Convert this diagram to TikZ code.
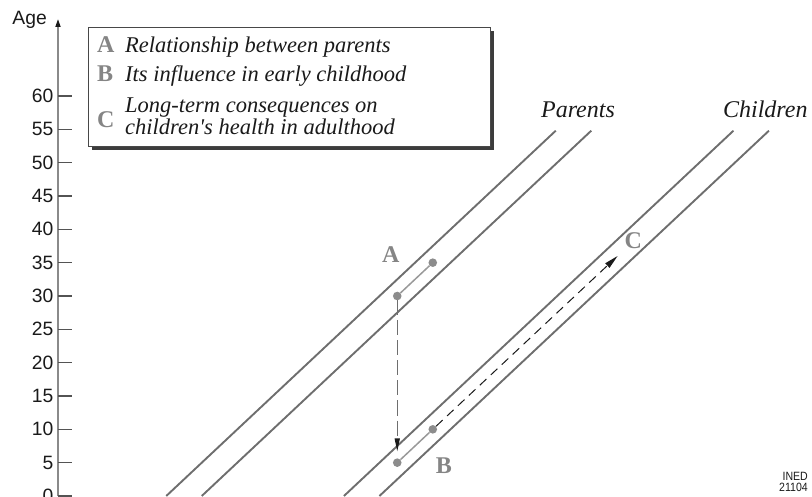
\documentclass[tikz,border=0pt]{standalone}
\usepackage{fontspec}
\setmainfont{Liberation Serif}
\newfontfamily\axfont{Liberation Sans}
\newfontfamily\srcfam[FakeStretch=0.88]{Liberation Sans}
\usepackage{tikz}
\usetikzlibrary{positioning,arrows.meta,calc}
\definecolor{lineGray}{HTML}{6E6E6E}
\definecolor{dotGray}{HTML}{8C8C8C}
\definecolor{linkGray}{HTML}{999999}
\definecolor{letGray}{HTML}{858585}
\definecolor{axGray}{HTML}{8A8A8A}
\definecolor{ink}{HTML}{1A1A1A}
\newcommand{\axlab}{\fontsize{19.3}{20}\selectfont\axfont}
\newcommand{\lgfont}{\fontsize{22.5}{22}\selectfont\itshape}
\newcommand{\ltfont}{\fontsize{24}{24}\selectfont\bfseries}
\newcommand{\grpfont}{\fontsize{24}{26}\selectfont\itshape}
\newcommand{\srcfont}{\fontsize{12}{12}\selectfont\srcfam}

\begin{document}
\begin{tikzpicture}[x=1pt,y=1pt,
    band/.style={draw=lineGray,line width=1.9pt},
    axisline/.style={draw=axGray,line width=1.6pt,-{Triangle[length=8pt,width=5pt,color=ink]}},
    tickmark/.style={draw=ink!75,line width=1.2pt},
    ticklab/.style={anchor=east,inner sep=0pt,text=ink,font=\axlab},
    dot/.style={circle,fill=dotGray,inner sep=0pt,minimum size=8.6pt},
    link/.style={draw=linkGray,line width=1.5pt},
    letter/.style={inner sep=0pt,text=letGray,font=\ltfont},
    lgtext/.style={anchor=base west,inner sep=0pt,text=ink,font=\lgfont},
    grp/.style={anchor=base,inner sep=0pt,text=ink,font=\grpfont},
    drop/.style={-{Triangle[length=13pt,width=5pt,color=ink]},draw=lineGray,line width=1.3pt,
                 dash pattern=on 15pt off 5pt},
    later/.style={-{Triangle[length=14pt,width=6pt]},draw=ink,line width=1pt,
                  dash pattern=on 9pt off 6pt}]

\useasboundingbox (0,0) rectangle (812,496);

% ======================= age axis =====================================================
\coordinate (ax0) at (58,0);
\coordinate (ax1) at (58,477);
\draw[axisline] (ax0) -- (ax1);
\foreach \a in {0,5,...,60}{
  \draw[tickmark] (58,{\a*20/3}) -- ++(13.5,0);
  \node[ticklab] (t\a) at (53.5,{\a*20/3}) {\a};
}
\node[anchor=base west,inner sep=0pt,text=ink,font=\axlab] (age) at (12.2,471) {Age};

% ======================= legend =======================================================
\fill[ink!85] (92.3,346) rectangle (494,464.7);
\draw[draw=ink!80,line width=0.9pt,fill=white] (88.3,350) rectangle (490,468.7);
\node[letter,anchor=base west] (kA) at (97,443) {A};
\node[lgtext] (tA) at (125,443) {Relationship between parents};
\node[letter,anchor=base west] (kB) at (97,414) {B};
\node[lgtext] (tB) at (125,414) {Its influence in early childhood};
\node[letter,anchor=base west] (kC) at (97,368) {C};
\node[lgtext] (tC1) at (125,383) {Long-term consequences on};
\node[lgtext] (tC2) at (125,361) {children\textquotesingle s health in adulthood};

% ======================= lifelines ====================================================
\draw[band] (166.25,0) -- (555.75,365.3);
\draw[band] (201.75,0) -- (591.25,365.3);
\draw[band] (343.95,0) -- (733.45,365.3);
\draw[band] (379.45,0) -- (768.95,365.3);
\node[grp] (par) at (578,378)   {Parents};
\node[grp] (chi) at (765.3,378) {Children};

% ======================= events and links =============================================
\node[dot] (A1) at (397.24,200)   {};
\node[dot] (A2) at (432.78,233.33) {};
\node[dot] (B1) at (397.24,33.33) {};
\node[dot] (B2) at (432.78,66.67) {};
\coordinate (Cend) at (617.6,240);
\draw[link] (A1) -- (A2);
\draw[link] (B1) -- (B2);
\draw[drop,shorten >=6.7pt] (A1) -- (B1);
\draw[later] (B2) -- (Cend);
\node[letter] (la) at (390.8,241)   {A};
\node[letter] (lb) at (443.8,30.2)  {B};
\node[letter] (lc) at (633.3,255.2) {C};

% ======================= source =======================================================
\node[anchor=base east,inner sep=0pt,text=ink,font=\srcfont] (ined) at (808,16) {INED};
\node[anchor=base east,inner sep=0pt,text=ink,font=\srcfont] (num)  at (808,5)  {21104};

\end{tikzpicture}
\end{document}
